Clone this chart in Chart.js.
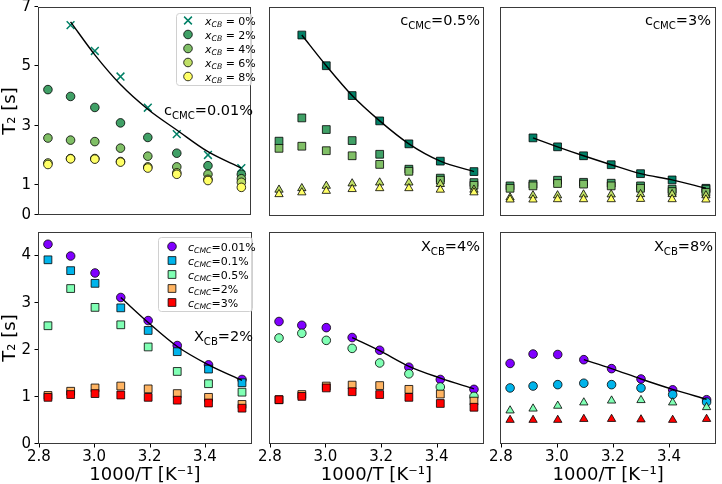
<!DOCTYPE html>
<html>
<head>
<meta charset="utf-8">
<script src="https://cdn.jsdelivr.net/npm/chart.js@4.4.0/dist/chart.umd.min.js"></script>
<style>
  body { margin: 0; background: #fff; width: 722px; height: 484px; position: relative; overflow: hidden; }
  canvas { position: absolute; }
</style>
</head>
<body>
<script>
// 1000/T positions of the measurements
const invT = [2.833, 2.915, 3.003, 3.096, 3.195, 3.300, 3.413, 3.534];
const xTicks = [2.8, 3.0, 3.2, 3.4];
const yTicksTop = [0, 1, 3, 5, 7];
const yTicksBottom = [0, 1, 2, 3, 4];

// top row: one panel per c_CMC, series per x_CB
const cmc001_xcb0 = [null, 6.39, 5.52, 4.66, 3.61, 2.72, 2.02, 1.58];
const cmc001_xcb2 = [4.22, 3.99, 3.62, 3.10, 2.61, 2.08, 1.66, 1.37];
const cmc001_xcb4 = [2.59, 2.52, 2.47, 2.25, 1.98, 1.62, 1.37, 1.22];
const cmc001_xcb6 = [1.75, 1.90, 1.90, 1.80, 1.62, 1.42, 1.20, 1.10];
const cmc001_xcb8 = [1.70, 1.89, 1.88, 1.78, 1.58, 1.37, 1.16, 0.93];
const cmc001_fit  = [null, 6.50, 5.39, 4.39, 3.56, 2.86, 2.13, 1.58];

const cmc05_xcb0 = [null, 6.06, 5.03, 4.03, 3.18, 2.41, 1.83, 1.48];
const cmc05_xcb2 = [2.50, 3.28, 2.89, 2.52, 2.06, 1.56, 1.26, 1.11];
const cmc05_xcb4 = [2.26, 2.33, 2.18, 2.01, 1.72, 1.49, 1.19, 1.02];
const cmc05_xcb6 = [0.87, 0.92, 1.00, 1.08, 1.11, 1.11, 1.06, 0.87];
const cmc05_xcb8 = [0.72, 0.78, 0.83, 0.89, 0.92, 0.92, 0.87, 0.78];
const cmc05_fit  = [null, 6.06, 5.03, 4.03, 3.18, 2.41, 1.83, 1.48];

const cmc3_xcb0 = [null, 2.61, 2.31, 2.01, 1.71, 1.41, 1.20, 0.92];
const cmc3_xcb2 = [1.00, 1.06, 1.19, 1.12, 1.09, 1.00, 0.89, 0.89];
const cmc3_xcb4 = [0.92, 1.00, 1.08, 1.06, 1.00, 0.92, 0.81, 0.78];
const cmc3_xcb6 = [0.61, 0.68, 0.68, 0.71, 0.71, 0.72, 0.72, 0.68];
const cmc3_xcb8 = [0.54, 0.54, 0.55, 0.55, 0.55, 0.56, 0.55, 0.54];
const cmc3_fit  = [null, 2.61, 2.31, 2.01, 1.71, 1.41, 1.20, 0.92];

// bottom row: one panel per x_CB, series per c_CMC
const xcb2_cmc001 = [4.24, 3.99, 3.63, 3.11, 2.62, 2.09, 1.68, 1.37];
const xcb2_cmc01  = [3.91, 3.68, 3.41, 2.89, 2.41, 1.96, 1.59, 1.30];
const xcb2_cmc05  = [2.51, 3.30, 2.90, 2.53, 2.06, 1.54, 1.28, 1.10];
const xcb2_cmc2   = [1.03, 1.12, 1.19, 1.23, 1.17, 1.07, 0.99, 0.84];
const xcb2_cmc3   = [0.99, 1.05, 1.07, 1.04, 0.99, 0.93, 0.87, 0.76];
const xcb2_fit    = [null, null, null, 3.11, 2.58, 2.07, 1.68, 1.35];

const xcb4_cmc001 = [2.60, 2.52, 2.47, 2.26, 1.99, 1.63, 1.37, 1.16];
const xcb4_cmc05  = [2.25, 2.35, 2.20, 2.03, 1.72, 1.49, 1.21, 1.01];
const xcb4_cmc2   = [0.94, 1.05, 1.23, 1.25, 1.24, 1.16, 1.06, 0.91];
const xcb4_cmc3   = [0.94, 1.01, 1.19, 1.11, 1.05, 0.99, 0.86, 0.78];
const xcb4_fit    = [null, null, null, 2.26, 1.98, 1.65, 1.40, 1.17];

const xcb8_cmc001 = [1.71, 1.91, 1.90, 1.79, 1.60, 1.38, 1.15, 0.94];
const xcb8_cmc01  = [1.19, 1.23, 1.26, 1.29, 1.26, 1.19, 1.05, 0.89];
const xcb8_cmc05  = [0.71, 0.75, 0.81, 0.88, 0.92, 0.93, 0.88, 0.78];
const xcb8_cmc3   = [0.51, 0.51, 0.51, 0.53, 0.53, 0.52, 0.51, 0.53];
const xcb8_fit    = [null, null, null, 1.79, 1.60, 1.38, 1.16, 0.95];

// colours (summer / rainbow colormaps)
const XCB_COL = { '0': '#008066', '2': '#40a066', '4': '#80bf66', '6': '#bfdf66', '8': '#ffff66' };
const CMC_COL = { '0.01': '#8000ff', '0.1': '#00b4eb', '0.5': '#80ffb4', '2': '#ffb462', '3': '#ff0000' };

const FONT = "'DejaVu Sans', sans-serif";
Chart.defaults.font.family = FONT;
Chart.defaults.color = '#000';
Chart.defaults.animation = false;

const X_MIN = 2.797, X_MAX = 3.569;
const SIZES = { circle: 4.3, rect: 5.5, triangle: 4.8, crossRot: 5.5 };

function pts(ys) {
  return invT.map((x, i) => ({ x: x, y: ys[i] })).filter(p => p.y !== null);
}

function marks(ys, color, shape) {
  const cross = shape === 'crossRot';
  return {
    type: 'scatter',
    data: pts(ys),
    pointStyle: shape,
    pointRadius: SIZES[shape],
    pointHoverRadius: SIZES[shape],
    backgroundColor: color,
    borderColor: cross ? color : '#000',
    borderWidth: cross ? 1.5 : 0.8
  };
}

function fitLine(ys) {
  return {
    type: 'line',
    data: pts(ys),
    borderColor: '#000',
    borderWidth: 1.4,
    pointRadius: 0,
    cubicInterpolationMode: 'monotone',
    fill: false
  };
}

function drawMarker(ctx, shape, x, y, color) {
  const r = SIZES[shape];
  ctx.save();
  ctx.fillStyle = color;
  ctx.strokeStyle = shape === 'crossRot' ? color : '#000';
  ctx.lineWidth = shape === 'crossRot' ? 1.5 : 0.8;
  ctx.beginPath();
  if (shape === 'circle') {
    ctx.arc(x, y, r, 0, Math.PI * 2);
  } else if (shape === 'rect') {
    const s = r * Math.SQRT1_2;
    ctx.rect(x - s, y - s, 2 * s, 2 * s);
  } else if (shape === 'crossRot') {
    const s = r * Math.SQRT1_2;
    ctx.moveTo(x - s, y - s); ctx.lineTo(x + s, y + s);
    ctx.moveTo(x + s, y - s); ctx.lineTo(x - s, y + s);
    ctx.stroke(); ctx.restore(); return;
  }
  ctx.fill(); ctx.stroke();
  ctx.restore();
}

// parts: [text, style] where style is '' | 'i' (italic) | 's' (subscript) | 'is'
function richText(ctx, x, y, parts, size, align) {
  const sub = size * 0.7;
  const items = parts.map(([t, st]) => {
    const isSub = st.includes('s');
    const f = (st.includes('i') ? 'italic ' : '') + (isSub ? sub : size) + 'px ' + FONT;
    ctx.font = f;
    return { t, f, dy: isSub ? size * 0.25 : 0, w: ctx.measureText(t).width };
  });
  const total = items.reduce((a, b) => a + b.w, 0);
  let cx = align === 'right' ? x - total : x;
  ctx.save();
  ctx.fillStyle = '#000';
  ctx.textBaseline = 'alphabetic';
  ctx.textAlign = 'left';
  items.forEach(it => { ctx.font = it.f; ctx.fillText(it.t, cx, y + it.dy); cx += it.w; });
  ctx.restore();
}

function fixSize(dim, size) {
  return s => {
    s[dim] = s.options.display ? size : 0;
    s.paddingTop = 0; s.paddingBottom = 0; s.paddingLeft = 0; s.paddingRight = 0;
  };
}

function makePanel(p) {
  const cv = document.createElement('canvas');
  cv.width = p.w; cv.height = p.h;
  cv.style.left = p.left + 'px'; cv.style.top = p.top + 'px';
  document.body.appendChild(cv);

  const n = p.datasets.length;
  p.datasets.forEach((d, i) => { d.order = d.type === 'line' ? -1 : n - i; });

  const deco = {
    id: 'deco',
    afterDraw(chart) {
      const ctx = chart.ctx, a = chart.chartArea;
      const xs = chart.scales.x, ys = chart.scales.y;
      ctx.save();
      ctx.strokeStyle = '#3a3a3a';
      ctx.lineWidth = 1;
      ctx.strokeRect(Math.round(a.left) + 0.5, Math.round(a.top) + 0.5,
        Math.round(a.right - a.left) - 1, Math.round(a.bottom - a.top) - 1);
      ctx.strokeStyle = '#000';
      ctx.beginPath();
      if (p.showX) {
        xTicks.forEach(v => {
          const px = Math.round(xs.getPixelForValue(v)) + 0.5;
          ctx.moveTo(px, a.bottom); ctx.lineTo(px, a.bottom + 3.5);
        });
      }
      if (p.showY) {
        p.yTicks.forEach(v => {
          const py = Math.round(ys.getPixelForValue(v)) - 0.5;
          ctx.moveTo(a.left, py); ctx.lineTo(a.left - 3.5, py);
        });
      }
      ctx.stroke();
      ctx.restore();

      richText(ctx, p.note.x - p.left, p.note.y - p.top, p.note.parts, 14.5, 'right');

      if (p.legend) {
        const L = p.legend;
        const bx = L.x - p.left, by = L.y - p.top;
        ctx.save();
        ctx.fillStyle = 'rgba(255,255,255,0.8)';
        ctx.strokeStyle = '#d0d0d0';
        ctx.lineWidth = 1;
        ctx.beginPath();
        ctx.roundRect(bx + 0.5, by + 0.5, L.w, L.h, 3);
        ctx.fill(); ctx.stroke();
        ctx.restore();
        L.items.forEach((it, i) => {
          const ry = by + L.first + i * L.step;
          drawMarker(ctx, it.shape, bx + L.mx, ry, it.color);
          richText(ctx, bx + L.tx, ry + 4, it.parts, 11, 'left');
        });
      }
    }
  };

  return new Chart(cv, {
    type: 'scatter',
    data: { datasets: p.datasets },
    plugins: [deco],
    options: {
      responsive: false,
      devicePixelRatio: 1,
      layout: { padding: p.pad },
      plugins: { legend: { display: false }, tooltip: { enabled: false } },
      scales: {
        x: {
          type: 'linear',
          min: X_MIN, max: X_MAX,
          display: p.showX,
          afterBuildTicks: s => { s.ticks = xTicks.map(v => ({ value: v })); },
          afterFit: fixSize('height', 40),
          grid: { display: false, drawTicks: true, tickLength: 4 },
          border: { display: false },
          ticks: { font: { size: 15 }, padding: 0, maxRotation: 0, autoSkip: false,
                   callback: v => v.toFixed(1) },
          title: { display: true, text: '1000/T [K\u207B\u00B9]', font: { size: 18, lineHeight: 1 },
                   padding: { top: 0, bottom: 0 } }
        },
        y: {
          type: 'linear',
          min: 0, max: p.yMax,
          display: p.showY,
          afterBuildTicks: s => { s.ticks = p.yTicks.map(v => ({ value: v })); },
          afterFit: fixSize('width', 38),
          grid: { display: false, drawTicks: true, tickLength: 4 },
          border: { display: false },
          ticks: { font: { size: 15 }, padding: 3, autoSkip: false, callback: v => String(v) },
          title: { display: true, text: 'T\u2082 [s]', font: { size: 18 },
                   padding: { top: 0, bottom: 0 } }
        }
      }
    }
  });
}

const COLS = [
  { left: 0, w: 258, pad: { left: 0, right: 1 }, showY: true },
  { left: 250, w: 240, pad: { left: 19, right: 2 }, showY: false },
  { left: 481, w: 241, pad: { left: 19, right: 3 } , showY: false }
];
const ROWS = [
  { top: 0, h: 222, pad: { top: 7, bottom: 2 }, showX: false, yMax: 7, yTicks: yTicksTop },
  { top: 225, h: 259, pad: { top: 7, bottom: 0 }, showX: true, yMax: 4.5, yTicks: yTicksBottom }
];

function panel(r, c, datasets, note, legend) {
  const R = ROWS[r], C = COLS[c];
  makePanel({
    left: C.left, top: R.top, w: C.w, h: R.h,
    pad: { left: C.pad.left, right: C.pad.right, top: R.pad.top, bottom: R.pad.bottom },
    showX: R.showX, showY: C.showY, yMax: R.yMax, yTicks: R.yTicks,
    datasets, note, legend
  });
}

const cmcNote = v => [['c', ''], ['CMC', 's'], ['=' + v + '%', '']];
const xcbNote = v => [['X', ''], ['CB', 's'], ['=' + v + '%', '']];

panel(0, 0, [
  marks(cmc001_xcb0, XCB_COL['0'], 'crossRot'),
  marks(cmc001_xcb2, XCB_COL['2'], 'circle'),
  marks(cmc001_xcb4, XCB_COL['4'], 'circle'),
  marks(cmc001_xcb6, XCB_COL['6'], 'circle'),
  marks(cmc001_xcb8, XCB_COL['8'], 'circle'),
  fitLine(cmc001_fit)
], { x: 253, y: 115, parts: cmcNote('0.01') }, {
  x: 176, y: 13, w: 75, h: 72, first: 7.5, step: 14, mx: 12, tx: 29,
  items: ['0', '2', '4', '6', '8'].map((k, i) => ({
    shape: i === 0 ? 'crossRot' : 'circle', color: XCB_COL[k],
    parts: [['x', 'i'], ['CB', 'is'], [' = ' + k + '%', '']]
  }))
});

panel(0, 1, [
  marks(cmc05_xcb0, XCB_COL['0'], 'rect'),
  marks(cmc05_xcb2, XCB_COL['2'], 'rect'),
  marks(cmc05_xcb4, XCB_COL['4'], 'rect'),
  marks(cmc05_xcb6, XCB_COL['6'], 'triangle'),
  marks(cmc05_xcb8, XCB_COL['8'], 'triangle'),
  fitLine(cmc05_fit)
], { x: 480, y: 25, parts: cmcNote('0.5') });

panel(0, 2, [
  marks(cmc3_xcb0, XCB_COL['0'], 'rect'),
  marks(cmc3_xcb2, XCB_COL['2'], 'rect'),
  marks(cmc3_xcb4, XCB_COL['4'], 'rect'),
  marks(cmc3_xcb6, XCB_COL['6'], 'triangle'),
  marks(cmc3_xcb8, XCB_COL['8'], 'triangle'),
  fitLine(cmc3_fit)
], { x: 711, y: 25, parts: cmcNote('3') });

panel(1, 0, [
  marks(xcb2_cmc001, CMC_COL['0.01'], 'circle'),
  marks(xcb2_cmc01, CMC_COL['0.1'], 'rect'),
  marks(xcb2_cmc05, CMC_COL['0.5'], 'rect'),
  marks(xcb2_cmc2, CMC_COL['2'], 'rect'),
  marks(xcb2_cmc3, CMC_COL['3'], 'rect'),
  fitLine(xcb2_fit)
], { x: 253, y: 341, parts: xcbNote('2') }, {
  x: 158, y: 237, w: 94, h: 74, first: 9.5, step: 14, mx: 14, tx: 30,
  items: ['0.01', '0.1', '0.5', '2', '3'].map((k, i) => ({
    shape: i === 0 ? 'circle' : 'rect', color: CMC_COL[k],
    parts: [['c', 'i'], ['CMC', 'is'], ['=' + k + '%', '']]
  }))
});

panel(1, 1, [
  marks(xcb4_cmc001, CMC_COL['0.01'], 'circle'),
  marks(xcb4_cmc05, CMC_COL['0.5'], 'circle'),
  marks(xcb4_cmc2, CMC_COL['2'], 'rect'),
  marks(xcb4_cmc3, CMC_COL['3'], 'rect'),
  fitLine(xcb4_fit)
], { x: 480, y: 251, parts: xcbNote('4') });

panel(1, 2, [
  marks(xcb8_cmc001, CMC_COL['0.01'], 'circle'),
  marks(xcb8_cmc01, CMC_COL['0.1'], 'circle'),
  marks(xcb8_cmc05, CMC_COL['0.5'], 'triangle'),
  marks(xcb8_cmc3, CMC_COL['3'], 'triangle'),
  fitLine(xcb8_fit)
], { x: 713, y: 251, parts: xcbNote('8') });
</script>
</body>
</html>
